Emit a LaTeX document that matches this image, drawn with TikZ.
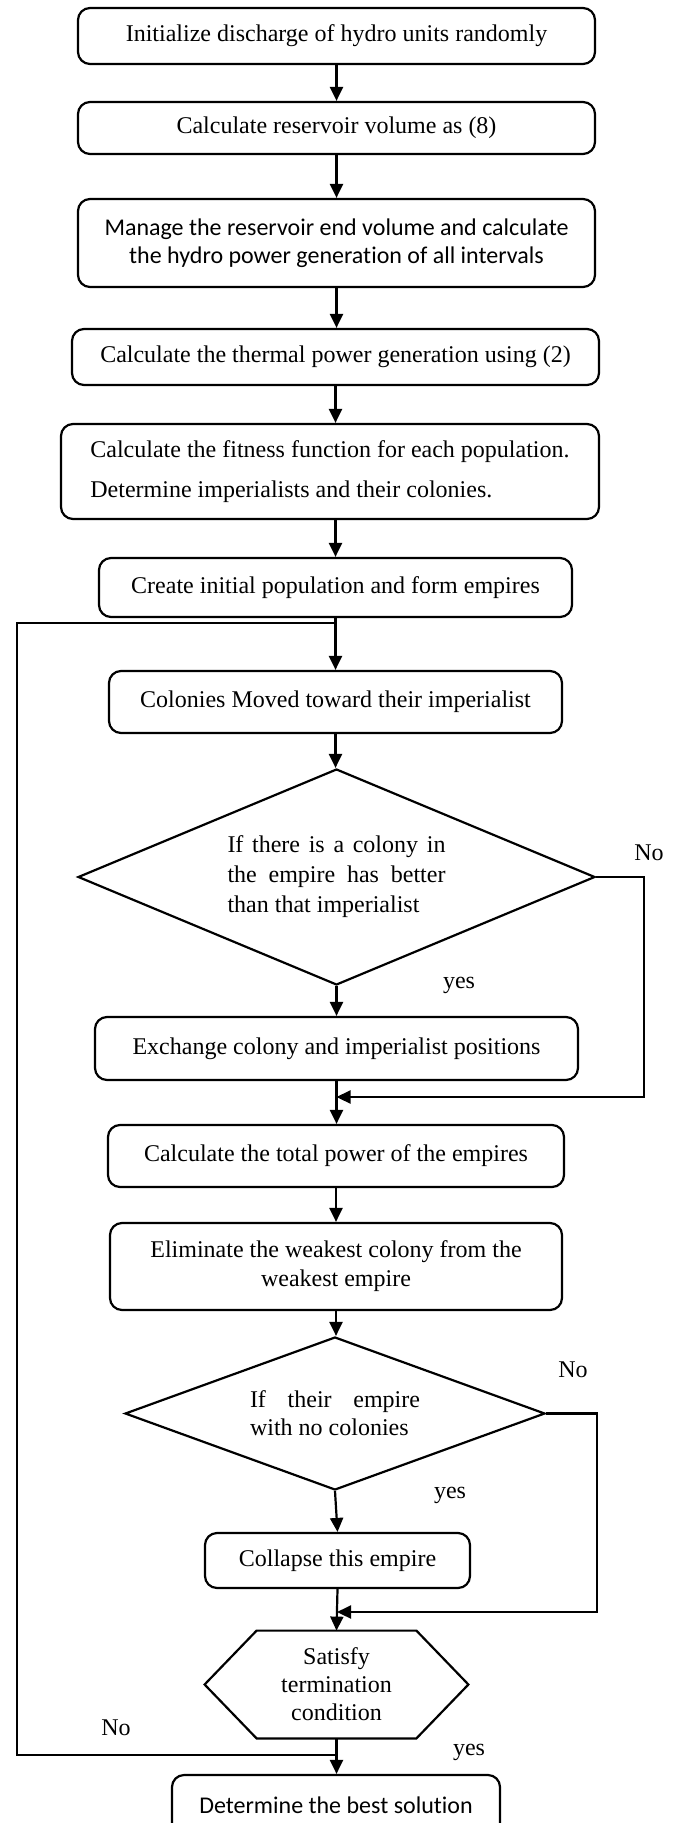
\documentclass[tikz,border=0pt]{standalone}
\usepackage{fontspec}
\setmainfont{Liberation Serif}
\newfontfamily\calibrifont[Ligatures=NoCommon]{Carlito}
\usepackage{tikz}
\usetikzlibrary{shapes.geometric, arrows.meta, calc}

\tikzset{
  procbox/.style={draw, line width=1.1pt, rounded corners=6pt, align=center, inner sep=2pt, font={\fontsize{12}{14}\selectfont}},
  decision/.style={draw, diamond, line width=1.1pt, inner sep=0pt, align=justify, font={\fontsize{12}{15}\selectfont}},
  flowline/.style={line width=1.1pt},
  flowarrow/.style={line width=1.1pt, -{Triangle[width=6.5pt,length=7pt]}},
  lbl/.style={inner sep=0pt, font={\fontsize{12}{14}\selectfont}}
}

\begin{document}
\begin{tikzpicture}[x=0.5pt, y=-0.5pt]
\fill[white] (0,0) rectangle (675,1823);
\useasboundingbox (0,0) rectangle (675,1823);

% Initialisation of the hydro part
\node[procbox, minimum width=258.5pt, minimum height=28pt] (init) at (336.5,36) {Initialize discharge of hydro units randomly};
\node[procbox, minimum width=258.5pt, minimum height=26pt] (resvol) at (336.5,128) {Calculate reservoir volume as (8)};
\node[procbox, minimum width=258.5pt, minimum height=44pt, font={\calibrifont\fontsize{12}{14}\selectfont}] (manage) at (336.5,243) {Manage the reservoir end volume and calculate\\the hydro power generation of all intervals};
\node[procbox, minimum width=263.5pt, minimum height=28pt] (thermal) at (335.5,357) {Calculate the thermal power generation using (2)};
\node[procbox, minimum width=269pt, minimum height=47.5pt, align=left, font={\fontsize{12}{20}\selectfont}] (fitness) at (330,471.5) {Calculate the fitness function for each population.\\Determine imperialists and their colonies.};
\node[procbox, minimum width=236.5pt, minimum height=29.5pt] (create) at (335.5,587.5) {Create initial population and form empires};

% Main loop of the empires
\node[procbox, minimum width=226.5pt, minimum height=31pt] (move) at (335.5,702) {Colonies Moved toward their imperialist};
\node[decision, shape aspect=2.39, minimum width=258.5pt, minimum height=108pt, text width=109pt] (chk1) at (336.5,877) {If there is a colony in\linebreak the empire has better\linebreak than that imperialist};
\node[procbox, minimum width=241.5pt, minimum height=31.5pt] (exch) at (336.5,1048.5) {Exchange colony and imperialist positions};
\node[procbox, minimum width=228pt, minimum height=31pt] (total) at (336,1156) {Calculate the total power of the empires};
\node[procbox, minimum width=226pt, minimum height=43.5pt, font={\fontsize{12}{14.5}\selectfont}] (elim) at (336,1266.5) {Eliminate the weakest colony from the\\weakest empire};
\node[decision, shape aspect=2.75, minimum width=210pt, minimum height=76.5pt, text width=85pt, font={\fontsize{12}{14}\selectfont}] (chk2) at (335,1413.5) {If their empire\linebreak with no colonies};
\node[procbox, minimum width=132.5pt, minimum height=27.5pt] (collapse) at (337.5,1560.5) {Collapse this empire};

% Termination test (hexagon)
\node[align=center, inner sep=0pt, minimum width=131.5pt, minimum height=53.5pt, font={\fontsize{12}{14}\selectfont}] (term) at (336.5,1684.5) {Satisfy\\termination\\condition};
\draw[flowline] ($(term.north west)+(26pt,0)$) -- ($(term.north east)+(-26pt,0)$) -- (term.east)
  -- ($(term.south east)+(-26pt,0)$) -- ($(term.south west)+(26pt,0)$) -- (term.west) -- cycle;
\node[procbox, minimum width=164pt, minimum height=30pt, font={\calibrifont\fontsize{12}{14}\selectfont}] (best) at (336,1805) {Determine the best solution};

% Vertical flow
\draw[flowarrow] (init.south) -- (init.south |- resvol.north);
\draw[flowarrow] (resvol.south) -- (resvol.south |- manage.north);
\draw[flowarrow] (manage.south) -- (manage.south |- thermal.north);
\draw[flowarrow] (thermal.south) -- (thermal.south |- fitness.north);
\draw[flowarrow] (fitness.south -| thermal.south) -- (thermal.south |- create.north);
\draw[flowarrow] (create.south) -- (create.south |- move.north);
\draw[flowarrow] (move.south) -- (move.south |- chk1.north);
\draw[flowarrow] (chk1.south) -- (chk1.south |- exch.north);
\draw[flowarrow] (exch.south) -- (exch.south |- total.north);
\draw[flowarrow] (total.south) -- (total.south |- elim.north);
\draw[flowarrow] (elim.south) -- (elim.south |- chk2.north);
\draw[flowarrow] (chk2.south) -- (collapse.north);
\draw[flowarrow] (collapse.south) -- (term.north);
\draw[flowarrow] (term.south) -- (term.south |- best.north);

% "No" branches
\coordinate (merge1) at (336.5,1097);
\draw[flowarrow] (chk1.east) -- ++(48,0) |- (merge1);
\coordinate (merge2) at (337,1612);
\draw[flowarrow] (chk2.east) -- ++(51,0) |- (merge2);

% Back loop
\coordinate (loopout) at (336.5,1755);
\coordinate (loopin) at (336.5,623);
\draw[flowline] (loopout) -- ++(-319.5,0) |- (loopin);

% Branch labels
\node[lbl] (no1) at (649,853) {No};
\node[lbl] (yes1) at (459,985) {yes};
\node[lbl] (no2) at (573,1370) {No};
\node[lbl] (yes2) at (450,1495) {yes};
\node[lbl] (no3) at (116,1728) {No};
\node[lbl] (yes3) at (469,1752) {yes};
\end{tikzpicture}
\end{document}
